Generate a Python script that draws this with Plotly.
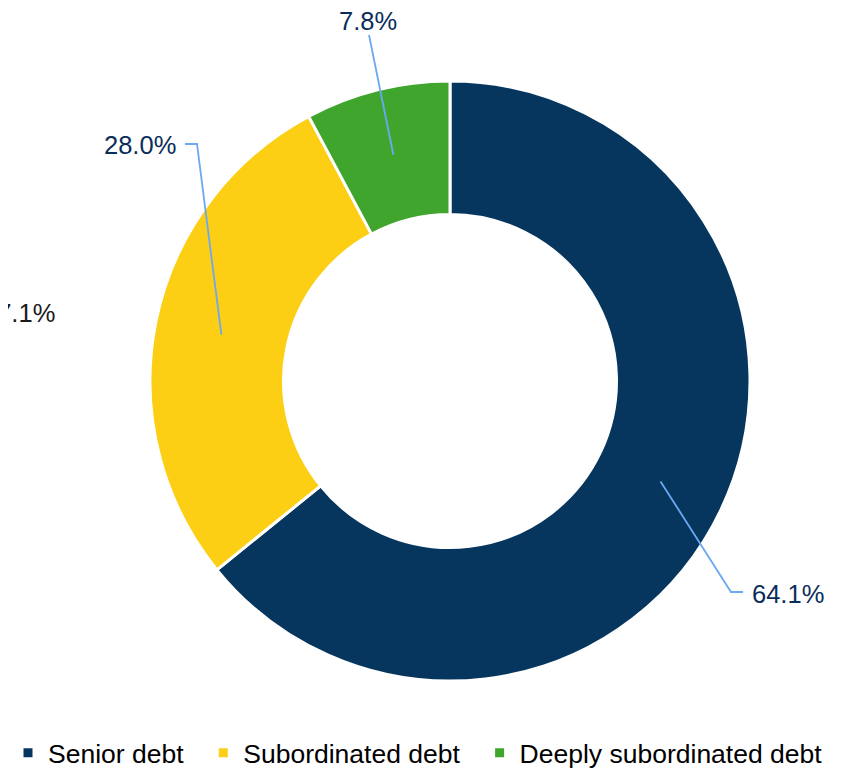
import math
import plotly.graph_objects as go

categories = ["Senior debt", "Subordinated debt", "Deeply subordinated debt"]
values = [64.1, 28.0, 7.8]
value_labels = ["64.1%", "28.0%", "7.8%"]
colors = ["#06365e", "#fccf14", "#40a52d"]
stray_label = "47.1%"

# page body has an 8px default margin: figure sized to fill the rest of the window
OFF = 8
W, H = 858 - OFF, 768 - OFF
CX, CY, R_OUT, HOLE = 450, 381, 300, 0.555
R_MID = R_OUT * (1 + HOLE) / 2

def px(x):
    return (x - OFF) / W

def py(y):
    return 1 - (y - OFF) / H

pad = ["\u00a0\u00a0", "\u00a0\u00a0", ""]

fig = go.Figure()
fig.add_trace(go.Pie(
    labels=[c + p for c, p in zip(categories, pad)],
    values=values,
    hole=HOLE,
    sort=False,
    direction="clockwise",
    rotation=0,
    textinfo="none",
    hoverinfo="label+percent",
    marker=dict(colors=colors, line=dict(color="white", width=3)),
    domain=dict(x=[px(CX - R_OUT), px(CX + R_OUT)], y=[py(CY + R_OUT), py(CY - R_OUT)]),
))

# leader line layout (elbow, end, text position, anchor) in window pixels
label_layout = [
    dict(elbow=(731, 592), end=(743, 592), text=(751, 594), xanchor="left"),
    dict(elbow=(197, 144), end=(185, 144), text=(177, 145), xanchor="right"),
    dict(elbow=(369, 35), end=(369, 35), text=(368, 21), xanchor="center"),
]

total = sum(values)
cum = 0.0
shapes = []
annotations = []
for v, lab, lay in zip(values, value_labels, label_layout):
    mid = (cum + v / 2) / total * 2 * math.pi
    cum += v
    sx = CX + R_MID * math.sin(mid)
    sy = CY - R_MID * math.cos(mid)
    pts = [(sx, sy), lay["elbow"], lay["end"]]
    path = "M {} {}".format(px(pts[0][0]), py(pts[0][1]))
    for p in pts[1:]:
        path += " L {} {}".format(px(p[0]), py(p[1]))
    shapes.append(dict(type="path", xref="paper", yref="paper", path=path,
                       line=dict(color="#6aa9f2", width=1.8)))
    annotations.append(dict(text=lab, x=px(lay["text"][0]), y=py(lay["text"][1]),
                            xref="paper", yref="paper", showarrow=False,
                            xanchor=lay["xanchor"], yanchor="middle", borderpad=0,
                            font=dict(family="Liberation Sans, Arial", size=25.5, color="#0b2d5a")))

annotations.append(dict(text=stray_label, x=px(57), y=py(313), xref="paper", yref="paper",
                        showarrow=False, xanchor="right", yanchor="middle",
                        font=dict(family="Liberation Sans, Arial", size=25.5, color="#1a1a1a")))

fig.update_layout(
    width=W, height=H,
    margin=dict(l=0, r=0, t=0, b=0, autoexpand=False),
    paper_bgcolor="white",
    plot_bgcolor="white",
    shapes=shapes,
    annotations=annotations,
    showlegend=True,
    legend=dict(orientation="h", x=0, xanchor="left", y=py(753), yanchor="middle",
                font=dict(family="Liberation Sans, Arial", size=26.5, color="#000000"),
                itemclick=False, tracegroupgap=0),
)

fig.write_html("out.html")
